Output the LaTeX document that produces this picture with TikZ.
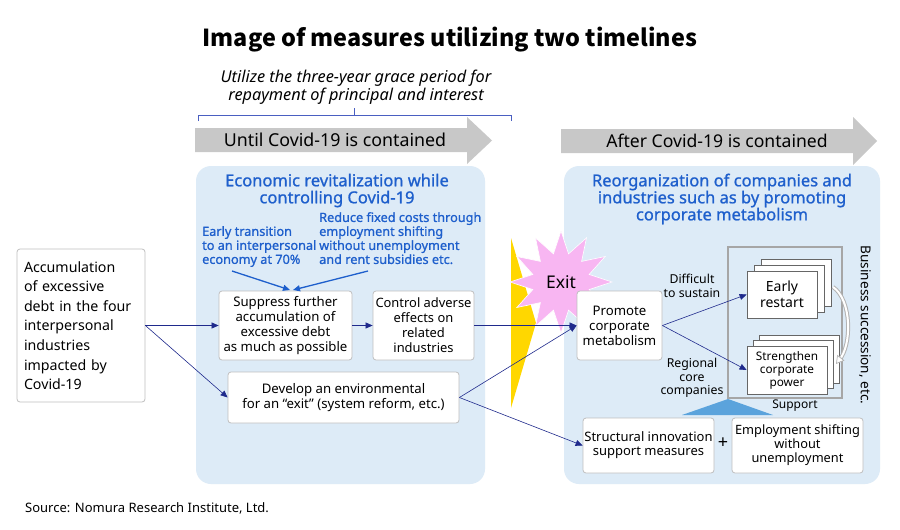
\documentclass[tikz,border=0pt]{standalone}
\usepackage{fontspec}
\setmainfont{Noto Sans}
\newfontfamily\titlefont{Noto Sans CJK JP}
\newfontfamily\semibfont{Noto Sans}[FakeBold=1.0]
\usetikzlibrary{arrows.meta,shapes.geometric}
\definecolor{panelc}{HTML}{DDEBF7}
\definecolor{arrowgray}{HTML}{C8C8C8}
\definecolor{bluetxt}{HTML}{1E5FCC}
\definecolor{navyc}{HTML}{1F2A8C}
\definecolor{boxborder}{HTML}{BFBFBF}
\definecolor{pinkc}{HTML}{F8B6F2}
\definecolor{goldc}{HTML}{FFD700}
\definecolor{trib}{HTML}{5BA3DC}
\definecolor{bracketc}{HTML}{4A5FC1}
\tikzset{
  wbox/.style={draw=boxborder, fill=white, rounded corners=3pt, inner sep=0pt, align=center, line width=0.8pt},
  stackbox/.style={draw=gray!80!black, fill=white, inner sep=0pt, align=center, line width=0.8pt},
  conn/.style={navyc, line width=0.6pt, -{Triangle[length=7pt,width=6pt]}},
  bconn/.style={bluetxt, line width=1.3pt, -{Triangle[length=7pt,width=6pt]}},
  panel/.style={fill=panelc, rounded corners=15pt},
  btxt/.style={text=bluetxt, font=\semibfont\fontsize{12.7}{14}\selectfont, align=left, inner sep=0pt},
  ptitle/.style={text=bluetxt, font=\semibfont\fontsize{16.5}{17}\selectfont, align=center, inner sep=0pt},
  sm/.style={font=\fontsize{12.3}{13.5}\selectfont, align=center, inner sep=0pt}
}
\begin{document}
\begin{tikzpicture}[x=1pt,y=-1pt]
\useasboundingbox (0,0) rectangle (900,530);
\fill[white] (0,0) rectangle (900,530);

% title
\node[font=\titlefont\bfseries\fontsize{23.4}{28}\selectfont] (title) at (450,40) {Image of measures utilizing two timelines};

% italic note
\node[font=\itshape\fontsize{16.3}{18}\selectfont, align=center, inner sep=0pt] (note) at (356,87) {Utilize the three-year grace period for\\repayment of principal and interest};
\draw[bracketc, line width=0.8pt] (198,121) -- (198,115) -- (511,115) -- (511,121);
\draw[bracketc, line width=0.8pt] (354,115) -- (354,108);

% gray timeline arrows
\fill[arrowgray] (195,128) -- (467,128) -- (467,117) -- (492,140.5) -- (467,164) -- (467,152) -- (195,152) -- cycle;
\node[font=\fontsize{17.8}{20}\selectfont] (until) at (335,140) {Until Covid-19 is contained};
\fill[arrowgray] (561,129) -- (853,129) -- (853,117) -- (877,141) -- (853,165) -- (853,153) -- (561,153) -- cycle;
\node[font=\fontsize{17.6}{20}\selectfont] (after) at (717,141) {After Covid-19 is contained};

% panels
\fill[panel] (196,166) rectangle (485,484);
\fill[panel] (564,166) rectangle (880,484);

\node[ptitle] (lt) at (337,190.5) {Economic revitalization while\\controlling Covid-19};
\node[ptitle] (rt) at (722,199) {Reorganization of companies and\\industries such as by promoting\\corporate metabolism};

% blue notes
\node[btxt, anchor=north west] (early) at (202,226) {Early transition\\to an interpersonal\\economy at 70\%};
\node[btxt, anchor=north west] (reduce) at (319,212) {Reduce fixed costs through\\employment shifting\\without unemployment\\and rent subsidies etc.};
\coordinate (e1) at (232,271);
\coordinate (r1) at (368,271);

% yellow triangle
\fill[goldc] (511,238) -- (536,323) -- (511,408) -- cycle;

% exit star
\node[star, star points=12, star point ratio=1.75, minimum size=102pt, inner sep=0pt, fill=pinkc, draw=white, line width=0.6pt, font=\fontsize{17.5}{20}\selectfont] (exit) at (561,282) {Exit};

% left boxes
\node[wbox, minimum width=128pt, minimum height=153pt, text width=114pt, align=left, font=\fontsize{14.2}{19.6}\selectfont] (acc) at (81,325.5) {Accumulation\\of excessive\\debt in the four\\interpersonal\\industries\\impacted by\\Covid-19};
\node[wbox, minimum width=133pt, minimum height=69pt, font=\fontsize{13.2}{15}\selectfont] (sup) at (285.5,325.5) {Suppress further\\accumulation of\\excessive debt\\as much as possible};
\node[wbox, minimum width=101pt, minimum height=69pt, font=\fontsize{12.9}{15}\selectfont] (ctl) at (423.5,325.5) {Control adverse\\effects on\\related\\industries};
\node[wbox, minimum width=231pt, minimum height=51pt, font=\fontsize{13.2}{15}\selectfont] (dev) at (343.5,397.5) {Develop an environmental\\for an “exit” (system reform, etc.)};

% right boxes
\node[wbox, minimum width=85pt, minimum height=69pt, font=\fontsize{13.2}{15}\selectfont] (pro) at (619.5,325.5) {Promote\\corporate\\metabolism};
\node[sm] (diff) at (692,286) {Difficult\\to sustain};
\node[sm] (reg) at (692,378) {Regional\\core\\companies};

\draw[gray!70, line width=1.6pt] (728,247) rectangle (842,398);
\node[font=\fontsize{12}{14}\selectfont, inner sep=0pt] (support) at (795,406) {Support};
\fill[trib] (682,415) -- (728,399) -- (773,415) -- cycle;

% stacks
\node[stackbox, minimum width=70pt, minimum height=47pt] (e3) at (796,282.5) {};
\node[stackbox, minimum width=70pt, minimum height=47pt] (e2) at (789,288.5) {};
\node[stackbox, minimum width=70pt, minimum height=47pt, font=\fontsize{14}{16}\selectfont] (er) at (782,294.5) {Early\\restart};
\node[stackbox, minimum width=80pt, minimum height=48pt] (s3) at (799,359) {};
\node[stackbox, minimum width=80pt, minimum height=48pt] (s2) at (793,364.5) {};
\node[stackbox, minimum width=80pt, minimum height=48pt, font=\fontsize{11.8}{13}\selectfont] (st) at (787,370) {Strengthen\\corporate\\power};

% curved block arrow
\coordinate (ca) at (833,287);
\coordinate (cb) at (836,364);
\draw[gray!60, line width=4pt, shorten >=5pt] (ca) .. controls (852,300) and (852,345) .. (cb);
\draw[white, line width=2pt, shorten >=5pt] (ca) .. controls (852,300) and (852,345) .. (cb);
\draw[gray!60, line width=0.7pt, -{Triangle[fill=white,length=8pt,width=9pt]}] (841,357.5) -- (cb);

\node[rotate=-90, font=\fontsize{13.6}{18}\selectfont, inner sep=0pt] (bus) at (865,325) {Business succession, etc.};

\node[wbox, minimum width=131pt, minimum height=55pt, font=\fontsize{13}{14}\selectfont] (str) at (648.5,445.5) {Structural innovation\\support measures};
\node[font=\fontsize{18}{18}\selectfont, inner sep=0pt] (plus) at (723,443) {+};
\node[wbox, minimum width=131pt, minimum height=55pt, font=\fontsize{12.8}{14}\selectfont] (emp) at (797.5,445.5) {Employment shifting\\without\\unemployment};

% connectors
\draw[bconn] (e1) -- (290,290);
\draw[bconn] (r1) -- (293,290);
\draw[conn] (acc.east) -- (sup.west);
\draw[conn] (acc.east) -- (dev.west);
\draw[conn] (sup.east) -- (ctl.west);
\draw[conn] (ctl.east) -- (pro.west);
\draw[conn] (dev.east) -- (pro.west);
\draw[conn] (dev.east) -- (str.west);
\draw[conn] (pro.east) -- (er.west);
\draw[conn] (pro.east) -- (st.west);

\node[font=\fontsize{13}{14}\selectfont, anchor=west, inner sep=0pt] (src) at (25,508) {Source: Nomura Research Institute, Ltd.};
\end{tikzpicture}
\end{document}
